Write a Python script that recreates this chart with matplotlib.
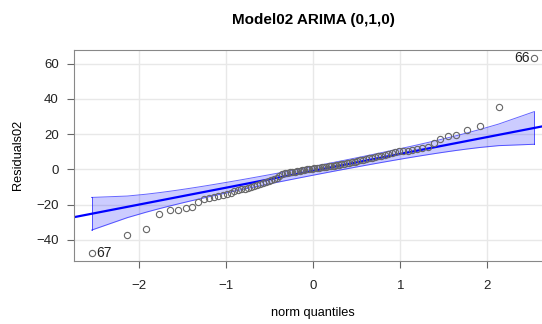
from statistics import NormalDist

import matplotlib
matplotlib.use('Agg')
import matplotlib.pyplot as plt
import numpy as np

plt.rcParams['font.family'] = ['Liberation Sans', 'DejaVu Sans']

# Sorted residuals (n = 90)
residuals = [
    -47.3, -37.4, -34.0, -25.1, -23.2, -23.0, -22.1, -21.6, -18.3, -16.8,
    -16.4, -15.8, -15.1, -14.7, -14.0, -13.2, -12.4, -11.8, -11.3, -10.9,
    -10.5, -10.0, -9.5, -8.9, -8.5, -7.5, -7.0, -6.5, -6.0, -5.6,
    -5.0, -3.5, -2.6, -2.3, -2.0, -1.7, -1.4, -1.2, -0.9, -0.7,
    -0.5, -0.3, 0.0, 0.2, 0.4, 0.6, 0.8, 1.0, 1.2, 1.4,
    1.6, 1.8, 2.0, 2.2, 2.4, 2.7, 3.0, 3.3, 3.6, 3.9,
    4.2, 4.5, 4.9, 5.3, 5.6, 6.0, 6.4, 6.7, 7.0, 7.4,
    7.8, 8.3, 8.8, 9.5, 9.9, 10.2, 10.5, 10.7, 11.0, 11.4,
    12.3, 13.0, 14.8, 17.0, 18.8, 19.4, 22.5, 24.4, 35.5, 63.2,
]
# Observation labels for the two extreme points
low_label = '67'
high_label = '66'

# Reference line
line_intercept = -0.8
line_slope = 9.6

n = len(residuals)
nd = NormalDist()
p = (np.arange(1, n + 1) - 0.5) / n
q = np.array([nd.inv_cdf(v) for v in p])
dens = np.array([nd.pdf(v) for v in q])
fit = line_intercept + line_slope * q
se = line_slope / dens * np.sqrt(p * (1 - p) / n)
zc = nd.inv_cdf(0.975)
upper = fit + zc * se
lower = fit - zc * se

fig = plt.figure(figsize=(5.42, 3.24), dpi=100)
ax = fig.add_axes([74 / 542, 63.5 / 324, (552 - 74) / 542, 210.5 / 324])

ax.set_xlim(-2.74, 2.74)
ax.set_ylim(-51.7, 67.8)
ax.set_xticks([-2, -1, 0, 1, 2])
ax.set_yticks([-40, -20, 0, 20, 40, 60])
ax.grid(True, color='#e8e8e8', linewidth=1.0)
ax.set_axisbelow(True)

# confidence envelope
ax.fill_between(q, lower, upper, color='blue', alpha=0.2, linewidth=0)
ax.plot(q, upper, color='blue', linewidth=0.7, alpha=0.6)
ax.plot(q, lower, color='blue', linewidth=0.7, alpha=0.6)
ax.plot([q[0], q[0]], [lower[0], upper[0]], color='blue', linewidth=0.7, alpha=0.6)
ax.plot([q[-1], q[-1]], [lower[-1], upper[-1]], color='blue', linewidth=0.7, alpha=0.6)
xl = np.array([-2.74, 2.74])
ax.plot(xl, line_intercept + line_slope * xl, color='blue', linewidth=1.6)

ax.plot(q, residuals, linestyle='none', marker='o', markersize=4.5,
        markerfacecolor='none', markeredgecolor='#666666', markeredgewidth=0.8)

ax.text(q[0] + 0.05, residuals[0], low_label, ha='left', va='center', fontsize=10, color='#222222')
ax.text(q[-1] - 0.05, residuals[-1], high_label, ha='right', va='center', fontsize=10, color='#222222')

for s in ax.spines.values():
    s.set_color('#888888')
ax.tick_params(colors='#666666', labelcolor='#222222', labelsize=9.5, length=5)
ax.tick_params(axis='x', pad=9)
ax.tick_params(axis='y', pad=6)

ax.set_title('Model02 ARIMA (0,1,0)', fontsize=11, fontweight='bold', pad=19)
ax.set_xlabel('norm quantiles', fontsize=9.2)
ax.set_ylabel('Residuals02', fontsize=9.2)
ax.xaxis.set_label_coords(0.5, -0.221)
ax.yaxis.set_label_coords(-0.105, 0.5)

fig.savefig('out.png', dpi=100)
